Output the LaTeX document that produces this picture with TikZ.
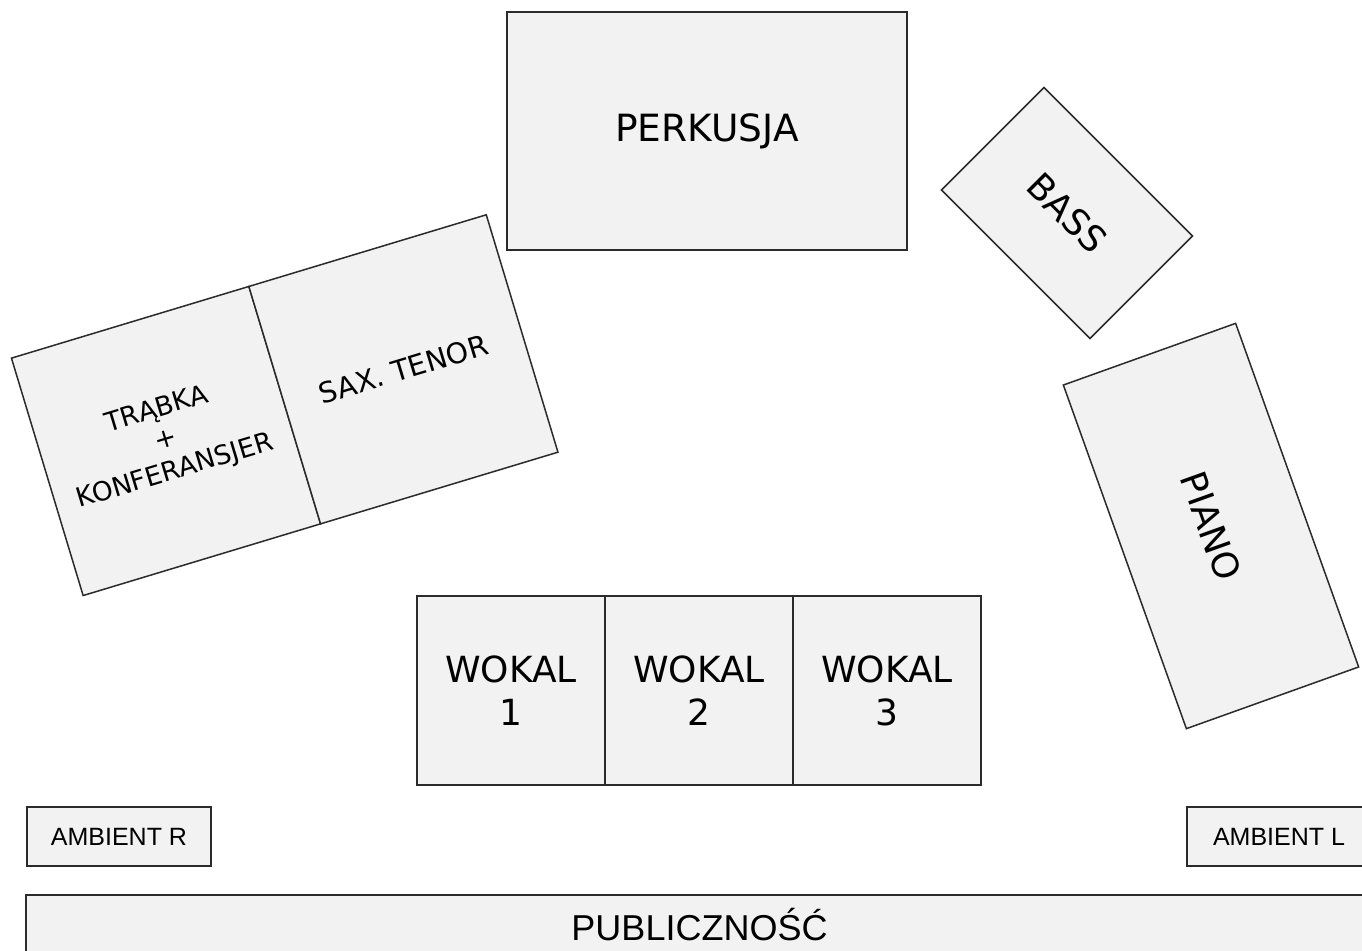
\documentclass[tikz,border=0pt]{standalone}
\usepackage{fontspec}
\setmainfont{DejaVu Sans}
\newfontfamily\arialfont{Liberation Sans}
\usetikzlibrary{positioning}
\definecolor{stagefill}{HTML}{F2F2F2}
\definecolor{stageline}{HTML}{2B2B2B}

\begin{document}
\begin{tikzpicture}[x=1pt,y=-1pt,
  spot/.style={draw=stageline,fill=stagefill,line width=1.5pt,align=center,inner sep=0pt,outer sep=0pt,font=\fontsize{36}{43}\selectfont},
  smallspot/.style={spot,font=\fontsize{26.5}{32}\selectfont},
  ambient/.style={spot,font=\arialfont\fontsize{25}{30}\selectfont}]
  \clip (0,0) rectangle (1362,950);
  \fill[white] (0,0) rectangle (1362,950);
  \node[spot,font=\fontsize{37.5}{45}\selectfont,minimum width=400pt,minimum height=238pt] (perkusja) at (707,131){\raisebox{-3pt}{PERKUSJA}};
  \node[spot,rotate=-45,minimum width=210pt,minimum height=145pt] (bass) at (1067,213){BASS};
  \node[spot,rotate=-70.3,minimum width=365pt,minimum height=183pt] (piano) at (1211,526){PIANO};
  \node[smallspot,rotate=16.8,minimum size=248pt] (trabka) at (166,441){TRĄBKA\\+\\KONFERANSJER};
  \node[smallspot,font=\fontsize{28.5}{34}\selectfont,rotate=16.8,minimum size=248pt,anchor=west] (sax) at (trabka.east){SAX. TENOR};
  \node[spot,minimum width=188pt,minimum height=189pt] (wokal1) at (511,690.5){WOKAL\\1};
  \node[spot,minimum width=188pt,minimum height=189pt,right=0pt of wokal1] (wokal2){WOKAL\\2};
  \node[spot,minimum width=188pt,minimum height=189pt,right=0pt of wokal2] (wokal3){WOKAL\\3};
  \node[ambient,minimum width=184pt,minimum height=59pt] (ambr) at (119,836.5){AMBIENT R};
  \node[ambient,minimum width=184pt,minimum height=59pt] (ambl) at (1279,836.5){AMBIENT L};
  \node[ambient,font=\arialfont\fontsize{36}{43}\selectfont,minimum width=1347pt,minimum height=60pt] (publicznosc) at (699.5,925){PUBLICZNOŚĆ};
\end{tikzpicture}
\end{document}
